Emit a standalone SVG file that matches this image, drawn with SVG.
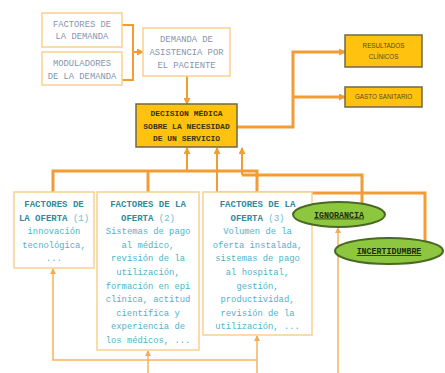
<svg xmlns="http://www.w3.org/2000/svg" width="445" height="373" viewBox="0 0 445 373">
<defs>
<marker id="ah" markerWidth="7" markerHeight="7" refX="6" refY="3.5" orient="auto" markerUnits="userSpaceOnUse"><path d="M0,0 L7,3.5 L0,7 z" fill="#F39C34"/></marker>
<marker id="ahs" markerWidth="6" markerHeight="6" refX="5" refY="3" orient="auto" markerUnits="userSpaceOnUse"><path d="M0,0 L6,3 L0,6 z" fill="#F5AD55"/></marker>
<style>
.wbox{fill:#fff;stroke:#F9CF8F;stroke-width:1.5}
.ybox{fill:#FFC20E;stroke:#6E6A4A;stroke-width:1.5}
.ell{fill:#8DC63F;stroke:#4A6A22;stroke-width:2}
.c{fill:none;stroke:#F39C34;stroke-linejoin:miter}
.thk{stroke-width:3}
.med{stroke-width:2}
.thin{fill:none;stroke:#F5B25E;stroke-width:1.5}
.tg{font-family:"Liberation Mono",monospace;font-size:8.8px;fill:#8595AE;text-anchor:middle}
.td{font-family:"Liberation Mono",monospace;font-size:8px;font-weight:bold;fill:#3A3210;text-anchor:middle}
.ts{font-family:"Liberation Sans",Arial,sans-serif;font-size:6.3px;fill:#5A4A10;text-anchor:middle}
.th{font-family:"Liberation Mono",monospace;font-size:9px;font-weight:bold;fill:#2F8A9E;text-anchor:middle}
.tb{font-family:"Liberation Mono",monospace;font-size:8.8px;fill:#4DB3C8;text-anchor:middle}
.tn{font-weight:normal;fill:#6CC0D2}
.te{font-family:"Liberation Mono",monospace;font-size:8.3px;font-weight:bold;fill:#1E2A10;text-anchor:middle;text-decoration:underline}
</style>
</defs>

<g id="connectors">
<path class="c med" d="M122,25 H133 V80 H122"/>
<path class="c med" d="M133,52 H143" marker-end="url(#ah)"/>
<path class="c med" d="M187,76 V104" marker-end="url(#ah)"/>
<path class="c thk" d="M237,127 H293 V52 H345" marker-end="url(#ah)"/>
<path class="c thk" d="M293,97 H345" marker-end="url(#ah)"/>
<path class="c thk" d="M53,192 V171 H257 V192"/>
<path class="c thk" d="M148,171 V192"/>
<path class="c med" d="M187,171 V148" marker-end="url(#ah)"/>
<path class="c thk" d="M425,241 V193 H217"/>
<path class="c med" d="M217,193 V148" marker-end="url(#ah)"/>
<path class="c thk" d="M362,203 V175 H242"/>
<path class="c med" d="M242,175 V148" marker-end="url(#ah)"/>
<path class="thin" d="M148,373 V351" marker-end="url(#ahs)"/>
<path class="thin" d="M257,373 V336" marker-end="url(#ahs)"/>
<path class="thin" d="M257,360 H53 V269" marker-end="url(#ahs)"/>
<path class="thin" d="M338,373 V228" marker-end="url(#ahs)"/>
</g>

<g id="factores-demanda">
<rect class="wbox" x="42" y="13" width="80" height="34"/>
<text class="tg" x="82" y="27">FACTORES DE</text>
<text class="tg" x="82" y="39">LA DEMANDA</text>
</g>
<g id="moduladores-demanda">
<rect class="wbox" x="42" y="52" width="80" height="33"/>
<text class="tg" x="82" y="66">MODULADORES</text>
<text class="tg" x="82" y="79">DE LA DEMANDA</text>
</g>
<g id="demanda-asistencia">
<rect class="wbox" x="143" y="28" width="87" height="48"/>
<text class="tg" x="186.5" y="42">DEMANDA DE</text>
<text class="tg" x="186.5" y="55">ASISTENCIA POR</text>
<text class="tg" x="186.5" y="68">EL PACIENTE</text>
</g>
<g id="decision-medica">
<rect class="ybox" x="136" y="104" width="101" height="43"/>
<text class="td" x="186.5" y="116">DECISION MÉDICA</text>
<text class="td" x="186.5" y="128.5">SOBRE LA NECESIDAD</text>
<text class="td" x="186.5" y="141">DE UN SERVICIO</text>
</g>
<g id="resultados-clinicos">
<rect class="ybox" x="345" y="35" width="77" height="32"/>
<text class="ts" x="383.5" y="48">RESULTADOS</text>
<text class="ts" x="383.5" y="59">CLÍNICOS</text>
</g>
<g id="gasto-sanitario">
<rect class="ybox" x="345" y="87" width="77" height="20"/>
<text class="ts" x="383.5" y="99">GASTO SANITARIO</text>
</g>

<g id="oferta-1">
<rect class="wbox" x="14" y="192" width="80" height="76"/>
<text class="th" x="54" y="207">FACTORES DE</text>
<text class="th" x="54" y="220.5">LA OFERTA <tspan class="tn">(1)</tspan></text>
<text class="tb" x="54" y="234">innovación</text>
<text class="tb" x="54" y="247.5">tecnológica,</text>
<text class="tb" x="54" y="261">...</text>
</g>
<g id="oferta-2">
<rect class="wbox" x="97" y="192" width="102" height="158"/>
<text class="th" x="148" y="207">FACTORES DE LA</text>
<text class="th" x="148" y="220.6">OFERTA <tspan class="tn">(2)</tspan></text>
<text class="tb" x="148" y="234.2">Sistemas de pago</text>
<text class="tb" x="148" y="247.8">al médico,</text>
<text class="tb" x="148" y="261.4">revisión de la</text>
<text class="tb" x="148" y="275">utilización,</text>
<text class="tb" x="148" y="288.6">formación en epi</text>
<text class="tb" x="148" y="302.2">clínica, actitud</text>
<text class="tb" x="148" y="315.8">científica y</text>
<text class="tb" x="148" y="329.4">experiencia de</text>
<text class="tb" x="148" y="343">los médicos, ...</text>
</g>
<g id="oferta-3">
<rect class="wbox" x="203" y="192" width="109" height="143"/>
<text class="th" x="257.5" y="207">FACTORES DE LA</text>
<text class="th" x="257.5" y="220.6">OFERTA <tspan class="tn">(3)</tspan></text>
<text class="tb" x="257.5" y="234.2">Volumen de la</text>
<text class="tb" x="257.5" y="247.8">oferta instalada,</text>
<text class="tb" x="257.5" y="261.4">sistemas de pago</text>
<text class="tb" x="257.5" y="275">al hospital,</text>
<text class="tb" x="257.5" y="288.6">gestión,</text>
<text class="tb" x="257.5" y="302.2">productividad,</text>
<text class="tb" x="257.5" y="315.8">revisión de la</text>
<text class="tb" x="257.5" y="329.4">utilización, ...</text>
</g>

<g id="ignorancia">
<ellipse class="ell" cx="339" cy="214.5" rx="46" ry="12.5"/>
<text class="te" x="339" y="217.5">IGNORANCIA</text>
</g>
<g id="incertidumbre">
<ellipse class="ell" cx="389" cy="251" rx="54" ry="13"/>
<text class="te" x="389" y="254">INCERTIDUMBRE</text>
</g>
</svg>
